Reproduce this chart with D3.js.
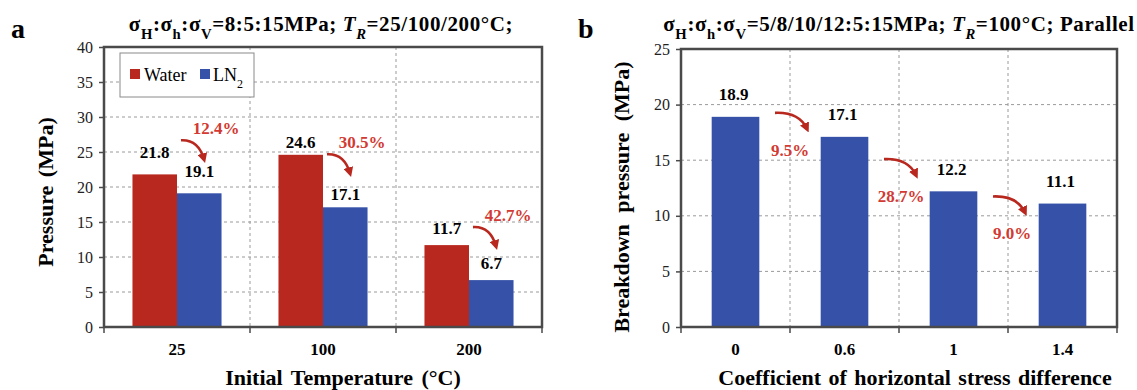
<!DOCTYPE html>
<html>
<head>
<meta charset="utf-8">
<script src="https://cdn.jsdelivr.net/npm/d3@7"></script>
<style>
  body { margin: 0; background: #fff; }
  svg { display: block; }
  svg text { font-family: "Liberation Serif", "Times New Roman", Times, serif; }
</style>
</head>
<body>
<svg id="chart" width="1137" height="390"></svg>
<script>
// panel a data
const tempsA = ['25', '100', '200'];
const seriesA = ['Water', 'LN2'];
const waterA = [21.8, 24.6, 11.7];
const ln2A = [19.1, 17.1, 6.7];
const dropA = ['12.4%', '30.5%', '42.7%'];
const ticksA = [0, 5, 10, 15, 20, 25, 30, 35, 40];

// panel b data
const coefB = ['0', '0.6', '1', '1.4'];
const pressB = [18.9, 17.1, 12.2, 11.1];
const dropB = ['9.5%', '28.7%', '9.0%'];
const ticksB = [0, 5, 10, 15, 20, 25];

// hand placement tweaks of the annotations (px)
const liftA = [16, 7, 11];
const arrowNudgeB = [-2, 7, 11];

const RED = '#b8281f', BLUE = '#3652a8', PCT = '#d23a33', FRAME = '#4a4a4a';

const svg = d3.select('#chart');
const defs = svg.append('defs');
defs.append('marker').attr('id', 'head')
  .attr('viewBox', '0 0 10 10').attr('refX', 6).attr('refY', 5)
  .attr('markerWidth', 3.8).attr('markerHeight', 3.8).attr('orient', 'auto')
  .append('path').attr('d', 'M0,0 L10,5 L0,10 z').attr('fill', RED);

let drawFrame = function(g, x0, x1, y, ticks, bounds) {
  // dashed grid
  g.selectAll('line.hg').data(ticks.filter(t => t > 0 && t < d3.max(ticks)))
    .enter().append('line').attr('class', 'hg')
    .attr('x1', x0).attr('x2', x1).attr('y1', d => y(d)).attr('y2', d => y(d))
    .style('stroke', '#9a9a9a').style('stroke-dasharray', '3,3');
  g.selectAll('line.vg').data(bounds.slice(1, -1))
    .enter().append('line').attr('class', 'vg')
    .attr('x1', d => d).attr('x2', d => d).attr('y1', y.range()[1]).attr('y2', y.range()[0])
    .style('stroke', '#9a9a9a').style('stroke-dasharray', '3,3');
};

let drawAxes = function(g, x0, x1, y, ticks, bounds) {
  const ax = g.append('g').attr('transform', 'translate(' + x0 + ',0)')
    .call(d3.axisLeft(y).tickValues(ticks).tickSize(5).tickPadding(6).tickFormat(d3.format('d')));
  ax.select('.domain').remove();
  ax.attr('font-family', null);
  ax.selectAll('line').style('stroke', FRAME).style('stroke-width', 1.5);
  ax.selectAll('text').style('font-size', '16px').style('fill', '#222');
  // bottom boundary ticks
  g.selectAll('line.bt').data(bounds).enter().append('line')
    .attr('x1', d => d).attr('x2', d => d)
    .attr('y1', y(0)).attr('y2', y(0) + 6)
    .style('stroke', FRAME).style('stroke-width', 1.5);
  g.append('rect')
    .attr('x', x0).attr('y', y.range()[1])
    .attr('width', x1 - x0).attr('height', y.range()[0] - y.range()[1])
    .style('fill', 'none').style('stroke', FRAME).style('stroke-width', 2.5);
};

let arrow = function(g, sx, sy, ex, ey) {
  const cx = sx + (ex - sx) * 0.75, cy = sy - 1;
  g.append('path')
    .attr('d', 'M' + sx + ',' + sy + ' Q' + cx + ',' + cy + ' ' + ex + ',' + ey)
    .style('fill', 'none').style('stroke', RED).style('stroke-width', 2.6)
    .attr('marker-end', 'url(#head)');
};

let title = function(g, cx, parts, size) {
  const t = g.append('text').attr('x', cx).attr('y', 31)
    .attr('text-anchor', 'middle').style('font-weight', 'bold').style('font-size', size + 'px')
    .style('letter-spacing', '0.6px');
  parts.forEach(p => {
    const s = t.append('tspan').text(p.t);
    if (p.sub) s.attr('baseline-shift', 'sub').style('font-size', (size * 0.7) + 'px');
    if (p.it) s.style('font-style', 'italic');
  });
};

// ---------- panel a ----------
const gA = svg.append('g');
const xA = d3.scaleBand().domain(tempsA).range([104, 542]).paddingInner(0.39).paddingOuter(0.195);
const subA = d3.scaleBand().domain(seriesA).range([0, xA.bandwidth()]);
const yA = d3.scaleLinear().domain([0, 40]).range([327, 47]);
const stepA = xA.step();
const boundsA = tempsA.map(c => xA(c) - stepA * xA.paddingInner() / 2).concat([542]);
boundsA[0] = 104;

drawFrame(gA, 104, 542, yA, ticksA, boundsA);

const rowsA = tempsA.map((c, i) => ({c: c, i: i, v: [waterA[i], ln2A[i]]}));
const grpA = gA.selectAll('g.grp').data(rowsA).enter().append('g')
  .attr('transform', d => 'translate(' + xA(d.c) + ',0)');
grpA.selectAll('rect').data(d => seriesA.map((s, k) => ({s: s, v: d.v[k]})))
  .enter().append('rect')
  .attr('x', d => subA(d.s)).attr('width', subA.bandwidth())
  .attr('y', d => yA(d.v)).attr('height', d => yA(0) - yA(d.v))
  .style('fill', d => d.s === 'Water' ? RED : BLUE);
grpA.selectAll('text.val').data(d => seriesA.map((s, k) => ({s: s, v: d.v[k], lift: liftA[d.i]})))
  .enter().append('text').attr('class', 'val')
  .attr('x', d => subA(d.s) + subA.bandwidth() / 2)
  .attr('y', d => yA(d.v) - d.lift)
  .attr('text-anchor', 'middle').style('font-weight', 'bold').style('font-size', '17px')
  .text(d => d.v.toFixed(1));

rowsA.forEach((d, i) => {
  const cx = xA(d.c) + xA.bandwidth() / 2;
  const ey = yA(ln2A[i]) - 34;
  arrow(gA, cx + 4, ey - 19, cx + 27, ey);
  gA.append('text').attr('x', cx + 39).attr('y', ey - 25)
    .attr('text-anchor', 'middle').style('font-weight', 'bold').style('font-size', '17px')
    .style('fill', PCT).text(dropA[i]);
});

drawAxes(gA, 104, 542, yA, ticksA, boundsA);

gA.selectAll('text.xl').data(tempsA).enter().append('text').attr('class', 'xl')
  .attr('x', d => xA(d) + xA.bandwidth() / 2).attr('y', 355)
  .attr('text-anchor', 'middle').style('font-weight', 'bold').style('font-size', '17px')
  .text(d => d);

// legend
const lg = gA.append('g');
lg.append('rect').attr('x', 120).attr('y', 53).attr('width', 134).attr('height', 44)
  .style('fill', '#fff').style('stroke', '#8a8a8a');
lg.append('rect').attr('x', 130).attr('y', 69).attr('width', 10).attr('height', 10).style('fill', RED);
lg.append('text').attr('x', 144).attr('y', 81).style('font-size', '18px').text('Water');
lg.append('rect').attr('x', 200).attr('y', 69).attr('width', 10).attr('height', 10).style('fill', BLUE);
const ln = lg.append('text').attr('x', 213).attr('y', 81).style('font-size', '18px');
ln.append('tspan').text('LN');
ln.append('tspan').attr('baseline-shift', 'sub').style('font-size', '12px').text('2');

gA.append('text').attr('transform', 'translate(53,' + 192 + ') rotate(-90)')
  .attr('text-anchor', 'middle').style('font-weight', 'bold').style('font-size', '22px')
  .style('word-spacing', '3px')
  .text('Pressure (MPa)');
gA.append('text').attr('x', 343).attr('y', 385)
  .attr('text-anchor', 'middle').style('font-weight', 'bold').style('font-size', '22px')
  .style('word-spacing', '3px')
  .text('Initial Temperature (°C)');
gA.append('text').attr('x', 11).attr('y', 38).style('font-weight', 'bold').style('font-size', '28px').text('a');
title(gA, 321, [
  {t: 'σ'}, {t: 'H', sub: 1}, {t: ':σ'}, {t: 'h', sub: 1}, {t: ':σ'}, {t: 'V', sub: 1},
  {t: '=8:5:15MPa; '}, {t: 'T', it: 1}, {t: 'R', it: 1, sub: 1}, {t: '=25/100/200°C;'}
], 21);

// ---------- panel b ----------
const gB = svg.append('g');
const xB = d3.scaleBand().domain(coefB).range([681, 1117]).paddingInner(0.563).paddingOuter(0.2815);
const yB = d3.scaleLinear().domain([0, 25]).range([327, 49]);
const stepB = xB.step();
const boundsB = coefB.map(c => xB(c) - stepB * xB.paddingInner() / 2).concat([1117]);
boundsB[0] = 681;

drawFrame(gB, 681, 1117, yB, ticksB, boundsB);

gB.selectAll('rect.bar').data(coefB.map((c, i) => ({c: c, v: pressB[i]})))
  .enter().append('rect').attr('class', 'bar')
  .attr('x', d => xB(d.c)).attr('width', xB.bandwidth())
  .attr('y', d => yB(d.v)).attr('height', d => yB(0) - yB(d.v))
  .style('fill', BLUE);
gB.selectAll('text.val').data(coefB.map((c, i) => ({c: c, v: pressB[i]})))
  .enter().append('text').attr('class', 'val')
  .attr('x', d => xB(d.c) + xB.bandwidth() / 2 - 2).attr('y', d => yB(d.v) - 16.5)
  .attr('text-anchor', 'middle').style('font-weight', 'bold').style('font-size', '17px')
  .text(d => d.v.toFixed(1));

dropB.forEach((p, i) => {
  const bx = boundsB[i + 1];
  const my = yB((pressB[i] + pressB[i + 1]) / 2) - 4 + arrowNudgeB[i];
  arrow(gB, bx - 15, my - 8, bx + 17, my + 8);
  gB.append('text').attr('x', bx + 2 * i).attr('y', my + 35)
    .attr('text-anchor', 'middle').style('font-weight', 'bold').style('font-size', '17px')
    .style('fill', PCT).text(p);
});

drawAxes(gB, 681, 1117, yB, ticksB, boundsB);

gB.selectAll('text.xl').data(coefB).enter().append('text').attr('class', 'xl')
  .attr('x', d => xB(d) + xB.bandwidth() / 2).attr('y', 355)
  .attr('text-anchor', 'middle').style('font-weight', 'bold').style('font-size', '17px')
  .text(d => d);

gB.append('text').attr('transform', 'translate(629,' + 197 + ') rotate(-90)')
  .attr('text-anchor', 'middle').style('font-weight', 'bold').style('font-size', '22px')
  .style('word-spacing', '6px')
  .text('Breakdown pressure (MPa)');
gB.append('text').attr('x', 915).attr('y', 385)
  .attr('text-anchor', 'middle').style('font-weight', 'bold').style('font-size', '22px')
  .style('word-spacing', '2px')
  .text('Coefficient of horizontal stress difference');
gB.append('text').attr('x', 578).attr('y', 38).style('font-weight', 'bold').style('font-size', '28px').text('b');
title(gB, 899, [
  {t: 'σ'}, {t: 'H', sub: 1}, {t: ':σ'}, {t: 'h', sub: 1}, {t: ':σ'}, {t: 'V', sub: 1},
  {t: '=5/8/10/12:5:15MPa; '}, {t: 'T', it: 1}, {t: 'R', it: 1, sub: 1}, {t: '=100°C; Parallel'}
], 21);
</script>
</body>
</html>
